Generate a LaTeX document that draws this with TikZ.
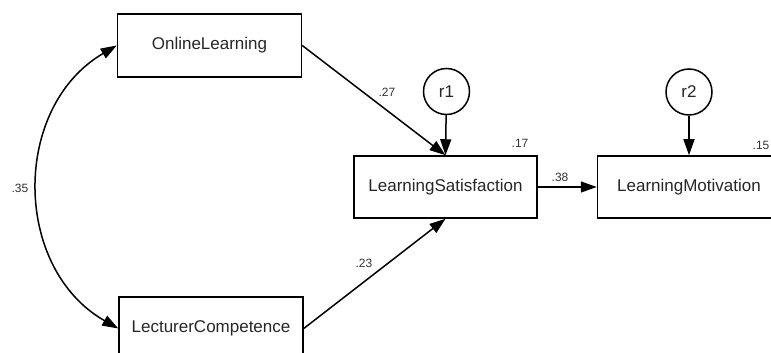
\documentclass[tikz,border=0pt]{standalone}
\usepackage{fontspec}
\setmainfont{Liberation Sans}
\usetikzlibrary{arrows.meta}

\begin{document}
\begin{tikzpicture}[x=1pt,y=1pt,line width=1.5pt,
  var/.style={draw,rectangle,minimum width=184pt,minimum height=63pt,
    text=black!85,font=\fontsize{17}{20}\selectfont},
  err/.style={draw,circle,minimum size=46pt,inner sep=0pt,
    text=black!85,font=\fontsize{17}{20}\selectfont},
  path/.style={-{Triangle[length=16pt,width=11pt]}},
  est/.style={text=black!80,font=\fontsize{12}{14}\selectfont}]
\useasboundingbox (0,0) rectangle (771,353);

% observed variables
\node[var] (online) at (209.5,307.5) {OnlineLearning};
\node[var] (lecturer) at (211,24.5) {LecturerCompetence};
\node[var,minimum width=183pt,minimum height=62pt] (satis) at (445.5,166) {LearningSatisfaction};
\node[var,minimum width=183pt,minimum height=62pt] (motiv) at (689,166) {LearningMotivation};

% residuals
\node[err] (r1) at (446.5,261.5) {r1};
\node[err] (r2) at (689,261) {r2};

% paths
\draw[path] (online.east) -- (satis.north);
\draw[path] (lecturer.east) -- (satis.south);
\draw[path] (r1) -- (satis.north);
\draw[path] (r2) -- (motiv.north);
\draw[path] (satis) -- (motiv);

% covariance
\draw[{Triangle[length=16pt,width=11pt]}-{Triangle[length=16pt,width=11pt]}]
  (online.west) to[bend right=60,looseness=1.1] (lecturer.west);

% estimates
\node[est] (e27) at (387,261) {.27};
\node[est] (e23) at (364,90) {.23};
\node[est] (e35) at (20,165) {.35};
\node[est] (e38) at (560,176) {.38};
\node[est] (e17) at (520,210) {.17};
\node[est] (e15) at (761,208) {.15};

\end{tikzpicture}
\end{document}
